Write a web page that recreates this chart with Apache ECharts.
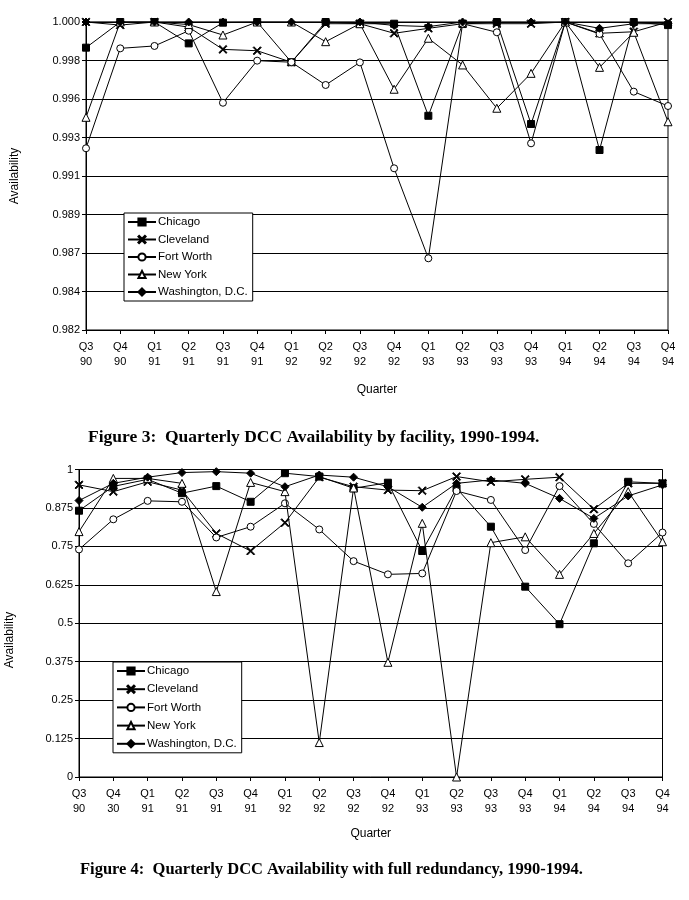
<!DOCTYPE html>
<html><head><meta charset="utf-8">
<script src="https://cdn.jsdelivr.net/npm/echarts@6/dist/echarts.min.js"></script>
<style>html,body{margin:0;padding:0;background:#fff}#c{width:689px;height:900px}</style>
</head><body><div id="c"></div>
<script>
const quarters1 = ['Q3\n90','Q4\n90','Q1\n91','Q2\n91','Q3\n91','Q4\n91','Q1\n92','Q2\n92','Q3\n92','Q4\n92','Q1\n93','Q2\n93','Q3\n93','Q4\n93','Q1\n94','Q2\n94','Q3\n94','Q4\n94'];
const quarters2 = ['Q3\n90','Q4\n30','Q1\n91','Q2\n91','Q3\n91','Q4\n91','Q1\n92','Q2\n92','Q3\n92','Q4\n92','Q1\n93','Q2\n93','Q3\n93','Q4\n93','Q1\n94','Q2\n94','Q3\n94','Q4\n94'];
const seriesNames = ['Chicago','Cleveland','Fort Worth','New York','Washington, D.C.'];

// Figure 3
const chicago1    = [0.9985,1.0000,1.0000,0.99875,0.99996,1.0000,0.99765,1.0000,0.9999,0.9999,0.99452,0.99988,1.0000,0.99404,1.0000,0.99252,1.0000,0.99982];
const cleveland1  = [1.0000,0.99982,1.0000,0.9997,0.9984,0.99832,0.99765,0.9999,0.9999,0.99934,0.99963,0.9999,0.9999,0.9999,1.0000,0.99934,0.99943,1.0000];
const fortWorth1  = [0.99262,0.99846,0.9986,0.99949,0.99528,0.99774,0.99765,0.99632,0.99764,0.99145,0.98619,0.9999,0.9994,0.99291,1.0000,0.9993,0.99593,0.99509];
const newYork1    = [0.99443,1.0000,1.0000,0.99985,0.99924,1.0000,1.0000,0.99885,0.9999,0.99607,0.99905,0.99749,0.99496,0.9970,1.0000,0.99735,0.9994,0.99417];
const washington1 = [1.0000,1.0000,1.0000,1.0000,1.0000,1.0000,1.0000,1.0000,1.0000,0.9998,0.99973,1.0000,1.0000,1.0000,1.0000,0.99963,0.9999,0.9999];
const yTicks1 = ['0.982','0.984','0.987','0.989','0.991','0.993','0.996','0.998','1.000'];

// Figure 4
const chicago2    = [0.866,0.945,0.968,0.923,0.946,0.895,0.988,0.977,0.939,0.957,0.735,0.939,0.814,0.619,0.497,0.760,0.960,0.955];
const cleveland2  = [0.950,0.928,0.960,0.933,0.792,0.735,0.827,0.975,0.944,0.933,0.931,0.977,0.960,0.968,0.975,0.871,0.955,0.955];
const fortWorth2  = [0.740,0.838,0.898,0.895,0.779,0.814,0.890,0.805,0.702,0.659,0.662,0.930,0.901,0.738,0.946,0.823,0.695,0.795];
const newYork2    = [0.798,0.971,0.971,0.955,0.603,0.958,0.928,0.112,0.940,0.373,0.825,0.000,0.762,0.781,0.659,0.792,0.928,0.765];
const washington2 = [0.899,0.955,0.975,0.990,0.993,0.988,0.944,0.982,0.975,0.944,0.877,0.955,0.966,0.955,0.906,0.841,0.914,0.950];
const yTicks2 = ['0','0.125','0.25','0.375','0.5','0.625','0.75','0.875','1'];

const captions = ['Figure 3:  Quarterly DCC Availability by facility, 1990-1994.',
                  'Figure 4:  Quarterly DCC Availability with full redundancy, 1990-1994.'];

const SANS = 'Liberation Sans, Arial, sans-serif';
const SERIF = 'Liberation Serif, Times New Roman, serif';
const X_PATH = 'path://M0,1 L1,0 L5,4 L9,0 L10,1 L6,5 L10,9 L9,10 L5,6 L1,10 L0,9 L4,5 Z';
const symbols = [
  {symbol:'rect', size:7, fill:'#000'},
  {symbol:X_PATH, size:8, fill:'#000'},
  {symbol:'circle', size:7, fill:'#fff'},
  {symbol:'triangle', size:8, fill:'#fff'},
  {symbol:'diamond', size:8, fill:'#000'}
];
const data1 = [chicago1, cleveland1, fortWorth1, newYork1, washington1];
const data2 = [chicago2, cleveland2, fortWorth2, newYork2, washington2];

function mkSeries(idx, dataArr) {
  return seriesNames.map((n, i) => ({
    name: n, type: 'line', xAxisIndex: idx, yAxisIndex: idx,
    data: dataArr[i], symbol: symbols[i].symbol, symbolSize: symbols[i].size,
    showAllSymbol: true,
    lineStyle: {color:'#000', width:1},
    itemStyle: {color: symbols[i].fill, borderColor:'#000', borderWidth: 1},
    emphasis: {disabled: true}, animation: false, z: 3 + i
  }));
}

function xAxisCfg(idx, cats, gap) {
  return {
    type:'category', gridIndex: idx, data: cats, boundaryGap: false,
    name: 'Quarter', nameLocation:'middle', nameGap: gap,
    nameTextStyle: {fontFamily: SANS, fontSize: 12, color:'#000'},
    axisLine: {show:true, onZero:false, lineStyle:{color:'#000', width:1}},
    axisTick: {show:true, length:4, lineStyle:{color:'#000'}},
    axisLabel: {fontFamily: SANS, fontSize: 11, color:'#000', lineHeight: 15, margin: 9, interval: 0},
    splitLine: {show:false}
  };
}
function yAxisCfg(idx, min, max, interval, ticks) {
  return {
    type:'value', gridIndex: idx, min: min, max: max, interval: interval,
    axisLine: {show:true, lineStyle:{color:'#000', width:1}},
    axisTick: {show:true, length:4, lineStyle:{color:'#000'}},
    axisLabel: {fontFamily: SANS, fontSize: 11, color:'#000', margin: 6,
      formatter: v => ticks[Math.round((v - min) / interval)] || ''},
    splitLine: {show:true, lineStyle:{color:'#000', width:1.2}}
  };
}
function legendCfg(left, top, gap) {
  return {
    orient:'vertical', left: left, top: top, data: seriesNames,
    itemWidth: 28, itemHeight: 9, itemGap: gap,
    backgroundColor:'#fff', borderColor:'#000', borderWidth:1, padding:[3, 5, 3, 3],
    textStyle: {fontFamily: SANS, fontSize: 11.5, color:'#000', padding:[0,0,0,-3]},
    selectedMode: false, z: 20
  };
}

const chart = echarts.init(document.getElementById('c'), null, {renderer:'canvas'});
chart.setOption({
  animation: false,
  backgroundColor: '#fff',
  title: [
    {text: captions[0], left: 83, top: 423, textStyle:{fontFamily: SERIF, fontWeight:'bold', fontSize: 17.5, color:'#000'}},
    {text: captions[1], left: 75, top: 856, textStyle:{fontFamily: SERIF, fontWeight:'bold', fontSize: 16.5, color:'#000'}}
  ],
  graphic: [
    {type:'text', x: 15, y: 176, rotation: Math.PI/2, style:{text:'Availability', font:'12px ' + SANS, fill:'#000', align:'center', verticalAlign:'middle'}},
    {type:'text', x: 10, y: 640, rotation: Math.PI/2, style:{text:'Availability', font:'12px ' + SANS, fill:'#000', align:'center', verticalAlign:'middle'}}
  ],
  grid: [
    {left: 86, top: 22, width: 582, height: 308, show: true, borderColor:'#000', borderWidth: 1, backgroundColor:'transparent'},
    {left: 79, top: 469.5, width: 583.5, height: 307.5, show: true, borderColor:'#000', borderWidth: 1, backgroundColor:'transparent'}
  ],
  xAxis: [xAxisCfg(0, quarters1, 54), xAxisCfg(1, quarters2, 51)],
  yAxis: [yAxisCfg(0, 0.982, 1.0, 0.00225, yTicks1), yAxisCfg(1, 0, 1, 0.125, yTicks2)],
  legend: [legendCfg(124, 213, 5.5), legendCfg(113, 662, 6.2)],
  series: mkSeries(0, data1).concat(mkSeries(1, data2))
});
</script></body></html>
